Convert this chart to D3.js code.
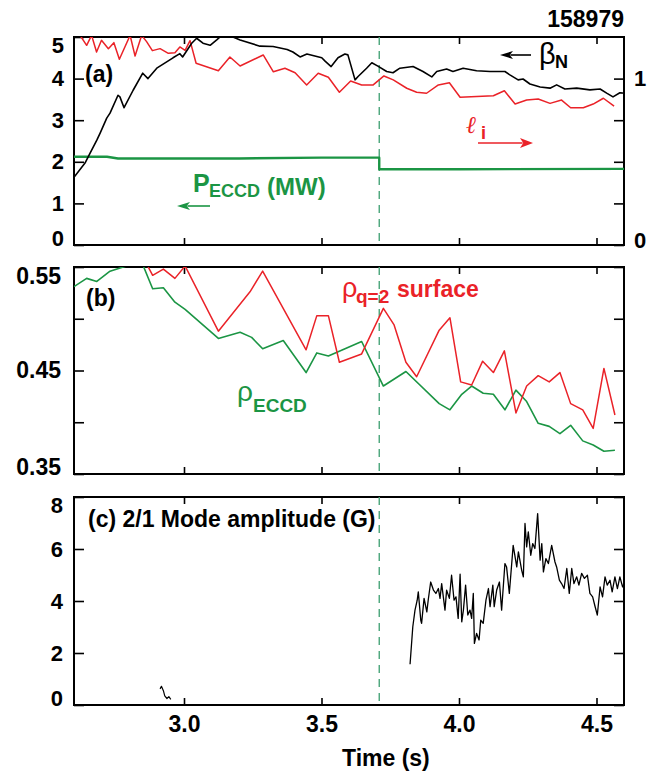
<!DOCTYPE html>
<html lang="en">
<head>
<meta charset="UTF-8">
<title>158979</title>
<script src="https://d3js.org/d3.v7.min.js"></script>
<style>
  body { margin: 0; background: #fff; }
  svg text { font-family: "Liberation Sans", Arial, sans-serif; font-weight: bold; }
</style>
</head>
<body>
<div id="chart"></div>
<script>
// ---- data ----
var shotNumber = "158979";
var eccdShiftTime = 3.71;
var timeTicks = [3.0, 3.5, 4.0, 4.5];

// (a) beta_N, left axis
var betaTime = [2.600, 2.640, 2.658, 2.683, 2.695, 2.719, 2.731, 2.760, 2.767, 2.782, 2.815, 2.850, 2.869, 2.901, 2.960, 2.985, 2.995, 3.028, 3.046, 3.069, 3.095, 3.119, 3.131, 3.178, 3.204, 3.276, 3.324, 3.375, 3.396, 3.422, 3.447, 3.501, 3.513, 3.535, 3.560, 3.585, 3.596, 3.622, 3.633, 3.664, 3.683, 3.705, 3.737, 3.760, 3.785, 3.833, 3.869, 3.901, 3.919, 3.955, 3.978, 4.015, 4.064, 4.113, 4.167, 4.185, 4.215, 4.233, 4.258, 4.295, 4.331, 4.355, 4.385, 4.428, 4.476, 4.513, 4.537, 4.560, 4.585, 4.596];
var betaN = [1.63, 1.97, 2.20, 2.52, 2.69, 3.05, 3.17, 3.60, 3.56, 3.30, 3.72, 4.13, 4.00, 4.25, 4.50, 4.60, 4.52, 4.85, 4.97, 4.85, 4.80, 4.93, 5.00, 5.00, 4.93, 4.78, 4.77, 4.70, 4.64, 4.52, 4.59, 4.50, 4.42, 4.29, 4.50, 4.59, 4.57, 3.97, 4.05, 4.25, 4.38, 4.30, 4.17, 4.14, 4.25, 4.29, 4.17, 4.04, 4.17, 4.23, 4.17, 4.25, 4.19, 4.17, 4.17, 4.09, 3.97, 3.99, 3.87, 3.80, 3.77, 3.85, 3.75, 3.77, 3.73, 3.75, 3.65, 3.56, 3.66, 3.65];

// (a) internal inductance l_i, right axis
var liTime = [2.622, 2.646, 2.664, 2.682, 2.700, 2.725, 2.745, 2.765, 2.804, 2.822, 2.846, 2.864, 2.885, 2.913, 2.943, 2.967, 2.985, 3.004, 3.022, 3.044, 3.125, 3.167, 3.204, 3.288, 3.325, 3.367, 3.404, 3.446, 3.488, 3.525, 3.565, 3.606, 3.646, 3.688, 3.727, 3.761, 3.810, 3.846, 3.882, 3.925, 3.965, 4.004, 4.125, 4.165, 4.204, 4.246, 4.288, 4.331, 4.373, 4.406, 4.452, 4.488, 4.525, 4.564];
var li = [1.26, 1.20, 1.26, 1.16, 1.23, 1.18, 1.216, 1.116, 1.26, 1.136, 1.26, 1.222, 1.168, 1.18, 1.152, 1.156, 1.19, 1.17, 1.228, 1.092, 1.047, 1.13, 1.076, 1.142, 1.041, 1.062, 1.035, 0.962, 1.032, 1.008, 0.918, 0.986, 0.962, 0.962, 1.016, 0.992, 0.942, 0.918, 0.912, 0.962, 0.975, 0.888, 0.897, 0.927, 0.847, 0.871, 0.877, 0.851, 0.871, 0.825, 0.825, 0.847, 0.882, 0.835];

// (a) ECCD power (MW), left axis
var pEccdTime = [2.60, 2.72, 2.76, 3.20, 3.50, 3.71, 3.71, 4.00, 4.60];
var pEccd = [2.12, 2.12, 2.08, 2.08, 2.10, 2.10, 1.82, 1.82, 1.83];

// (b) ECCD deposition radius and q=2 surface radius
var rhoEccdTime = [2.600, 2.646, 2.683, 2.731, 2.779, 2.815, 2.852, 2.886, 2.925, 2.967, 3.004, 3.125, 3.204, 3.246, 3.286, 3.361, 3.444, 3.483, 3.525, 3.646, 3.725, 3.807, 3.928, 3.967, 4.010, 4.046, 4.088, 4.125, 4.167, 4.207, 4.246, 4.288, 4.328, 4.367, 4.406, 4.450, 4.488, 4.527, 4.567];
var rhoEccd = [0.531, 0.539, 0.536, 0.546, 0.550, 0.553, 0.551, 0.529, 0.530, 0.516, 0.509, 0.481, 0.487, 0.482, 0.471, 0.479, 0.448, 0.467, 0.464, 0.478, 0.435, 0.449, 0.418, 0.412, 0.427, 0.435, 0.428, 0.427, 0.412, 0.431, 0.420, 0.399, 0.396, 0.389, 0.397, 0.382, 0.378, 0.372, 0.373];
var rhoQ2Time = [2.840, 2.886, 2.925, 2.967, 3.004, 3.125, 3.240, 3.286, 3.444, 3.483, 3.525, 3.565, 3.646, 3.725, 3.764, 3.807, 3.846, 3.928, 3.967, 4.006, 4.046, 4.086, 4.125, 4.165, 4.207, 4.246, 4.288, 4.328, 4.367, 4.406, 4.450, 4.488, 4.527, 4.567];
var rhoQ2 = [0.565, 0.542, 0.548, 0.539, 0.551, 0.488, 0.526, 0.546, 0.470, 0.503, 0.503, 0.458, 0.466, 0.510, 0.494, 0.458, 0.444, 0.489, 0.501, 0.439, 0.436, 0.459, 0.448, 0.469, 0.409, 0.435, 0.445, 0.439, 0.448, 0.418, 0.412, 0.394, 0.452, 0.407];

// (c) 2/1 mode amplitude (G)
var blipTime = [2.913, 2.918, 2.925, 2.930, 2.938, 2.945, 2.952];
var blipAmp = [0.62, 0.72, 0.55, 0.35, 0.25, 0.32, 0.22];
var modeTime = [3.822, 3.832, 3.840, 3.848, 3.852, 3.861, 3.864, 3.873, 3.883, 3.888, 3.897, 3.907, 3.916, 3.925, 3.931, 3.937, 3.949, 3.955, 3.965, 3.973, 3.982, 3.989, 3.997, 4.004, 4.010, 4.016, 4.024, 4.032, 4.040, 4.046, 4.052, 4.056, 4.064, 4.073, 4.079, 4.088, 4.098, 4.107, 4.113, 4.123, 4.128, 4.137, 4.147, 4.155, 4.167, 4.173, 4.183, 4.197, 4.210, 4.216, 4.228, 4.234, 4.240, 4.246, 4.252, 4.261, 4.268, 4.276, 4.286, 4.295, 4.301, 4.307, 4.316, 4.325, 4.337, 4.349, 4.355, 4.365, 4.373, 4.382, 4.392, 4.401, 4.410, 4.418, 4.428, 4.436, 4.446, 4.456, 4.467, 4.476, 4.486, 4.495, 4.503, 4.513, 4.522, 4.531, 4.539, 4.549, 4.557, 4.567, 4.576, 4.585, 4.595, 4.600];
var modeAmp = [1.57, 3.01, 3.65, 4.03, 4.35, 3.26, 3.14, 4.10, 3.58, 4.03, 4.73, 4.42, 4.29, 4.48, 4.10, 4.67, 3.65, 4.42, 4.10, 4.99, 4.03, 4.16, 3.33, 5.03, 3.20, 3.65, 4.61, 3.46, 3.65, 3.33, 4.29, 2.37, 2.75, 2.50, 3.26, 3.14, 4.03, 4.48, 3.78, 4.61, 3.78, 4.42, 4.73, 3.65, 5.44, 5.31, 4.29, 6.14, 5.31, 5.89, 5.18, 4.93, 6.98, 6.08, 6.66, 5.76, 6.21, 6.02, 7.36, 5.57, 6.21, 5.12, 5.63, 5.44, 6.14, 5.50, 5.31, 4.80, 4.67, 4.48, 5.25, 4.29, 5.25, 4.67, 4.93, 4.61, 5.06, 4.87, 4.99, 4.29, 4.16, 3.78, 3.46, 4.54, 4.16, 4.93, 4.61, 4.80, 4.35, 4.93, 4.48, 4.93, 4.54, 4.67];

// ---- layout ----
var width = 655, height = 778;
var red = "#ea2228", green = "#1b9544", dashGreen = "#4aa57a";

var svg = d3.select("#chart").append("svg")
    .attr("width", width)
    .attr("height", height);

var x = d3.scaleLinear().domain([2.6, 4.6]).range([74, 624]);
var panels = {
    a: { top: 37, bottom: 245 },
    b: { top: 267, bottom: 474 },
    c: { top: 497, bottom: 705 }
};
var yA = d3.scaleLinear().domain([0, 5]).range([panels.a.bottom, panels.a.top]);
var yLi = d3.scaleLinear().domain([0, 1.25]).range([panels.a.bottom, panels.a.top]);
var yB = d3.scaleLinear().domain([0.35, 0.55]).range([panels.b.bottom, panels.b.top]);
var yC = d3.scaleLinear().domain([0, 8]).range([panels.c.bottom, panels.c.top]);

var defs = svg.append("defs");
Object.keys(panels).forEach(function (k) {
    var p = panels[k];
    defs.append("clipPath").attr("id", "clip-" + k)
        .append("rect")
        .attr("x", x.range()[0]).attr("y", p.top)
        .attr("width", x.range()[1] - x.range()[0])
        .attr("height", p.bottom - p.top);
});

function zipData(t, v) {
    return t.map(function (d, i) { return [d, v[i]]; });
}

function styleAxis(g, size) {
    g.select(".domain").remove();
    g.selectAll(".tick line").attr("stroke", "#000").attr("stroke-width", 1.6);
    g.selectAll("text").attr("fill", "#000").style("font-size", size + "px");
}

// shift the outermost labels inside the frame, like the original
function pinEnds(g) {
    var t = g.selectAll(".tick text").filter(function () { return this.textContent !== ""; });
    var n = t.size();
    t.each(function (d, i) {
        if (i === 0) d3.select(this).attr("dy", "0.02em");
        if (i === n - 1) d3.select(this).attr("dy", "0.72em");
    });
}

function frame(k, yScale, leftTicks, leftFmt, leftSize, leftPad) {
    var p = panels[k];
    var g = svg.append("g");

    // top and bottom time ticks
    g.append("g").attr("transform", "translate(0," + p.top + ")")
        .call(d3.axisTop(x).tickValues(timeTicks).tickSize(-7).tickFormat(""))
        .call(styleAxis, 23);
    g.append("g").attr("transform", "translate(0," + p.bottom + ")")
        .call(d3.axisBottom(x).tickValues(timeTicks).tickSize(-7).tickPadding(11)
            .tickFormat(k === "c" ? d3.format(".1f") : ""))
        .call(styleAxis, 23);

    g.append("g").attr("transform", "translate(" + x.range()[0] + ",0)")
        .call(d3.axisLeft(yScale).tickValues(leftTicks).tickSize(-10).tickPadding(leftPad).tickFormat(leftFmt))
        .call(styleAxis, leftSize)
        .call(pinEnds);

    if (k !== "a") {
        g.append("g").attr("transform", "translate(" + x.range()[1] + ",0)")
            .call(d3.axisRight(yScale).tickValues(leftTicks).tickSize(-10).tickFormat(""))
            .call(styleAxis, leftSize);
    }

    g.append("rect")
        .attr("x", x.range()[0]).attr("y", p.top)
        .attr("width", x.range()[1] - x.range()[0])
        .attr("height", p.bottom - p.top)
        .attr("fill", "none").attr("stroke", "#000").attr("stroke-width", 2);
    return g;
}

// ---- frames and axes ----
frame("a", yA, [0, 1, 2, 3, 4, 5], d3.format("d"), 22, 10);
svg.append("g").attr("transform", "translate(" + x.range()[1] + ",0)")
    .call(d3.axisRight(yLi).tickValues([0, 0.25, 0.5, 0.75, 1]).tickSize(-10).tickPadding(10)
        .tickFormat(function (d) { return (d === 0 || d === 1) ? d3.format("d")(d) : ""; }))
    .call(styleAxis, 22)
    .call(function (g) { g.selectAll(".tick text").filter(function (d) { return d === 0; }).attr("dy", "0.1em"); });

frame("b", yB, [0.35, 0.40, 0.45, 0.50, 0.55],
    function (d) { return (Math.round(d * 100) % 10 === 5) ? d3.format(".2f")(d) : ""; }, 23, 13);
frame("c", yC, [0, 2, 4, 6, 8], d3.format("d"), 22, 11);

// ---- ECCD step marker ----
Object.keys(panels).forEach(function (k) {
    svg.append("line")
        .attr("x1", x(eccdShiftTime)).attr("x2", x(eccdShiftTime))
        .attr("y1", panels[k].top).attr("y2", panels[k].bottom)
        .attr("stroke", dashGreen).attr("stroke-width", 1.4)
        .attr("stroke-dasharray", "8,6");
});

// ---- lines ----
function drawLine(k, t, v, yScale, color, w) {
    svg.append("path")
        .datum(zipData(t, v))
        .attr("clip-path", "url(#clip-" + k + ")")
        .attr("fill", "none")
        .attr("stroke", color)
        .attr("stroke-width", w)
        .attr("stroke-linejoin", "round")
        .attr("d", d3.line().x(function (d) { return x(d[0]); }).y(function (d) { return yScale(d[1]); }));
}

drawLine("a", pEccdTime, pEccd, yA, green, 2.4);
drawLine("a", liTime, li, yLi, red, 1.5);
drawLine("a", betaTime, betaN, yA, "#000", 1.6);

drawLine("b", rhoEccdTime, rhoEccd, yB, green, 1.6);
drawLine("b", rhoQ2Time, rhoQ2, yB, red, 1.5);

drawLine("c", blipTime, blipAmp, yC, "#000", 1.2);
drawLine("c", modeTime, modeAmp, yC, "#000", 1.3);

// ---- annotations ----
function arrow(x1, x2, y, color, head, headW) {
    var dir = x2 > x1 ? 1 : -1;
    svg.append("line")
        .attr("x1", x1).attr("x2", x2 - dir * head * 0.8).attr("y1", y).attr("y2", y)
        .attr("stroke", color).attr("stroke-width", 1.6);
    svg.append("path")
        .attr("d", "M" + x2 + "," + y + "L" + (x2 - dir * head) + "," + (y - headW) +
            "L" + (x2 - dir * head * 0.75) + "," + y + "L" + (x2 - dir * head) + "," + (y + headW) + "Z")
        .attr("fill", color);
}

svg.append("text").attr("x", 624).attr("y", 27).attr("text-anchor", "end")
    .style("font-size", "23px").text(shotNumber);

svg.append("text").attr("x", 85).attr("y", 82).style("font-size", "23px").text("(a)");
svg.append("text").attr("x", 86).attr("y", 306).style("font-size", "23px").text("(b)");
svg.append("text").attr("x", 88).attr("y", 527).style("font-size", "23px").text("(c) 2/1 Mode amplitude (G)");
svg.append("text").attr("x", 342).attr("y", 766).style("font-size", "23px").text("Time (s)");

// beta_N
arrow(531, 500, 55, "#000", 13, 4);
svg.append("text").attr("x", 539).attr("y", 64).style("font-size", "29px").style("font-weight", "normal").text("β");
svg.append("text").attr("x", 555).attr("y", 68).style("font-size", "18px").text("N");

// l_i
svg.append("text").attr("x", 466).attr("y", 133).attr("fill", red)
    .style("font-family", "'DejaVu Serif', serif").style("font-style", "italic")
    .style("font-weight", "normal").style("font-size", "24px").text("ℓ");
svg.append("text").attr("x", 481).attr("y", 139).attr("fill", red).style("font-size", "18px").text("i");
arrow(478, 533, 143, red, 13, 5);

// P_ECCD
svg.append("text").attr("x", 193).attr("y", 192).attr("fill", green).style("font-size", "25px").text("P");
svg.append("text").attr("x", 209).attr("y", 197).attr("fill", green).style("font-size", "18px").text("ECCD");
svg.append("text").attr("x", 267).attr("y", 195).attr("fill", green).style("font-size", "24px").text("(MW)");
arrow(210, 177, 206, green, 13, 4);

// rho_q=2 surface
svg.append("text").attr("x", 342).attr("y", 297).attr("fill", red)
    .style("font-size", "27px").style("font-weight", "normal").text("ρ");
svg.append("text").attr("x", 356).attr("y", 303).attr("fill", red).style("font-size", "19px").text("q=2");
svg.append("text").attr("x", 397).attr("y", 297).attr("fill", red).style("font-size", "23px").text("surface");

// rho_ECCD
svg.append("text").attr("x", 237).attr("y", 401).attr("fill", green)
    .style("font-size", "28px").style("font-weight", "normal").text("ρ");
svg.append("text").attr("x", 253).attr("y", 412).attr("fill", green).style("font-size", "19px").text("ECCD");
</script>
</body>
</html>
